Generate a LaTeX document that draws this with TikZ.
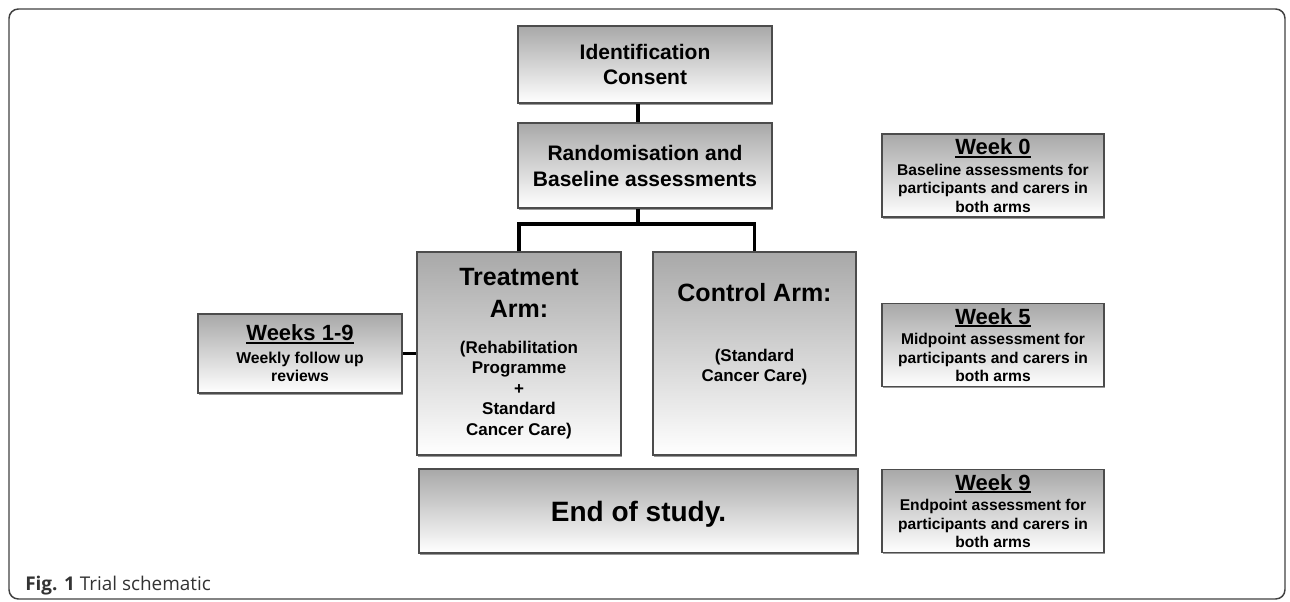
\documentclass[tikz,border=0pt]{standalone}
\usepackage{fontspec}
\setmainfont{Liberation Sans}
\newfontfamily\capfont{Open Sans}
\usetikzlibrary{shadows}

\newcommand{\armtitle}{\fontsize{18.75}{22}\selectfont}
\newcommand{\wktitle}{\fontsize{16.5}{18}\selectfont}
\newcommand{\wkline}[1]{\setbox0\hbox{#1}\rlap{\rule[-2.2pt]{\wd0}{1.4pt}}\box0}

\begin{document}
\begin{tikzpicture}[x=0.75pt,y=0.75pt,yscale=-1,xscale=1,
	box/.style={draw=black!70,line width=1.2pt,top color=gray!68,middle color=gray!24,bottom color=white,
		drop shadow={shadow xshift=0.6pt,shadow yshift=-1.2pt,opacity=0.4,fill=black},
		align=center,inner sep=0pt,text=black},
	wkbox/.style={box,minimum width=166.5pt,minimum height=62.25pt,font=\bfseries\fontsize{11.7}{13.9}\selectfont},
	conn/.style={line width=2.3pt,black}]
			\useasboundingbox (0,0) rectangle (1290,601);
			\draw[rounded corners=7pt,line width=1.1pt,black!75] (9,9) rectangle (1285,599);
			
			\node[box,minimum width=190.5pt,minimum height=57.75pt,font=\bfseries\fontsize{15.75}{18.75}\selectfont] (ident) at (645,64.5) {Identification\\Consent};
			\node[box,minimum width=190.5pt,minimum height=63.75pt,font=\bfseries\fontsize{15.75}{19.5}\selectfont] (rand) at (645,165.5) {Randomisation and\\Baseline assessments};
			\node[box,minimum width=153pt,minimum height=152.25pt,font=\bfseries\fontsize{12.75}{15.4}\selectfont] (treat) at (519,353.5) {\armtitle Treatment\\[8.6pt]\armtitle Arm:\\[11.6pt](Rehabilitation\\Programme\\+\\Standard\\Cancer Care)};
			\node[box,minimum width=152.25pt,minimum height=152.25pt,font=\bfseries\fontsize{12.75}{15.4}\selectfont] (ctrl) at (754.5,353.5) {\armtitle Control Arm:\\[29.6pt](Standard\\Cancer Care)\\[16.1pt]\mbox{}};
			\node[box,minimum width=329.25pt,minimum height=63pt,text depth=0pt,font=\bfseries\fontsize{21}{25}\selectfont] (end) at (638.5,511) {End of study.};
			\node[box,minimum width=153pt,minimum height=59.25pt,font=\bfseries\fontsize{11.8}{13.9}\selectfont] (wk19) at (300,353.5) {\wktitle\wkline{Weeks 1-9}\\[3pt]Weekly follow up\\reviews};
			
			\node[wkbox] (wk0) at (993,175.5) {\wktitle\wkline{Week 0}\\[1.5pt]Baseline assessments for\\participants and carers in\\both arms};
			\node[wkbox] (wk5) at (993,345) {\wktitle\wkline{Week 5}\\[1.5pt]Midpoint assessment for\\participants and carers in\\both arms};
			\node[wkbox] (wk9) at (993,511) {\wktitle\wkline{Week 9}\\[1.5pt]Endpoint assessment for\\participants and carers in\\both arms};
			
			\coordinate (bus) at (638,224);
			\draw[conn] ([xshift=-5.25pt]ident.south) -- ([xshift=-5.25pt]rand.north);
			\draw[conn] ([xshift=-5.25pt]rand.south) -- (bus);
			\draw[conn] (treat.north) |- (bus) -| (ctrl.north);
			\draw[conn] (wk19.east) -- (treat.west);
			
			\node[anchor=base west,inner sep=0pt,text=black!80,font=\capfont\fontsize{14.2}{17}\selectfont] (cap) at (25,590.5) {\textbf{Fig. 1} Trial schematic};
\end{tikzpicture}
\end{document}
